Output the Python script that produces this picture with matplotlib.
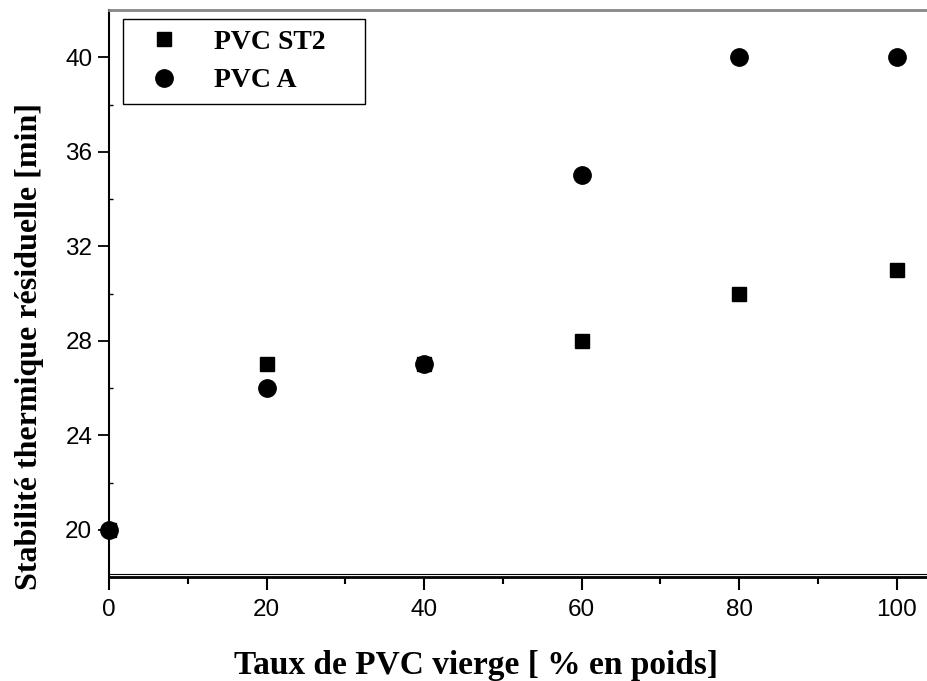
import matplotlib.pyplot as plt
from matplotlib.ticker import MultipleLocator

# data
taux = [0, 20, 40, 60, 80, 100]
pvc_st2 = [20, 27, 27, 28, 30, 31]
pvc_a = [20, 26, 27, 35, 40, 40]

fig = plt.figure(figsize=(9.28, 6.81), dpi=100)
ax = fig.add_axes([0.1175, 0.1527, 0.8825, 0.8326])

ax.plot(taux, pvc_st2, 's', color='black', markersize=10.5, label='PVC ST2    ')
ax.plot(taux, pvc_a, 'o', color='black', markersize=12.5, label='PVC A', clip_on=False)

ax.set_xlim(0, 104)
ax.set_ylim(18, 42)
ax.set_xticks([0, 20, 40, 60, 80, 100])
ax.xaxis.set_minor_locator(MultipleLocator(10))
ax.set_yticks([20, 24, 28, 32, 36, 40])
ax.yaxis.set_minor_locator(MultipleLocator(2))

for lab in ax.get_xticklabels() + ax.get_yticklabels():
    lab.set_fontfamily('Liberation Sans')
    lab.set_fontsize(17.5)

ax.tick_params(axis='x', which='major', direction='out', length=9, width=1.5, pad=7)
ax.tick_params(axis='x', which='minor', direction='out', length=5, width=1.5)
ax.tick_params(axis='y', which='major', direction='out', length=8, width=1.3, pad=4)
ax.tick_params(axis='y', which='minor', direction='in', length=3, width=1.0)

ax.spines['right'].set_visible(False)
ax.spines['top'].set_color('#888888')
ax.spines['top'].set_linewidth(2)
ax.spines['left'].set_linewidth(1.5)
ax.spines['bottom'].set_linewidth(2)
# thin double line just above the bottom axis
ax.axhline(18.12, color='black', linewidth=0.8)

ax.set_xlabel('Taux de PVC vierge [ % en poids]', fontfamily='Liberation Serif',
              fontweight='bold', fontsize=24)
ax.xaxis.set_label_coords(0.4475, -0.128)
ax.set_ylabel('Stabilité thermique résiduelle [min]', fontfamily='Liberation Serif',
              fontweight='bold', fontsize=23)
ax.yaxis.set_label_coords(-0.079, 0.407)

leg = ax.legend(loc='upper left', bbox_to_anchor=(0.017, 0.985), frameon=True,
                fancybox=False, edgecolor='black', framealpha=1,
                prop={'family': 'Liberation Serif', 'weight': 'bold', 'size': 20},
                borderpad=0.4, handletextpad=0.72, handlelength=2.16,
                labelspacing=0.46, borderaxespad=0)
leg.get_frame().set_linewidth(1.0)

fig.savefig('out.png', dpi=100)
